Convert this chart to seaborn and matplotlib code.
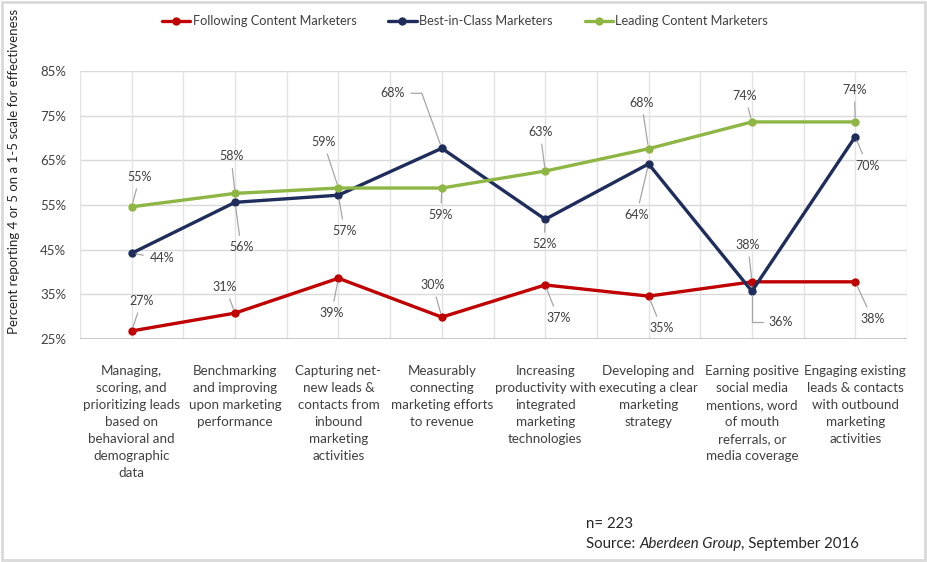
import matplotlib
matplotlib.use("Agg")
import matplotlib.pyplot as plt
import seaborn as sns
import pandas as pd
from matplotlib.patches import Rectangle

categories = [
    "Managing,\nscoring, and\nprioritizing leads\nbased on\nbehavioral and\ndemographic\ndata",
    "Benchmarking\nand improving\nupon marketing\nperformance",
    "Capturing net-\nnew leads &\ncontacts from\ninbound\nmarketing\nactivities",
    "Measurably\nconnecting\nmarketing efforts\nto revenue",
    "Increasing\nproductivity with\nintegrated\nmarketing\ntechnologies",
    "Developing and\nexecuting a clear\nmarketing\nstrategy",
    "Earning positive\nsocial media\nmentions, word\nof mouth\nreferrals, or\nmedia coverage",
    "Engaging existing\nleads & contacts\nwith outbound\nmarketing\nactivities",
]
series_names = ["Following Content Marketers", "Best-in-Class Marketers", "Leading Content Marketers"]
following = [26.8, 30.8, 38.6, 29.9, 37.1, 34.6, 37.8, 37.8]
best_in_class = [44.2, 55.6, 57.2, 67.7, 51.8, 64.2, 35.7, 70.3]
leading = [54.6, 57.6, 58.8, 58.8, 62.6, 67.6, 73.6, 73.6]
y_ticks = [25, 35, 45, 55, 65, 75, 85]
colors = ["#C00000", "#1F2D5C", "#8DB645"]

# label offsets in screen pixels (dx right, dy down)
offsets = {
    series_names[0]: [(10, -30), (-10, -26), (-7, 35), (-9, -32), (13, 33), (13, 32), (-4, -37), (17, 37)],
    series_names[1]: [(30, 5), (6, 45), (6, 36), (-49, -55), (-1, 25), (-12, 51), (29, 31), (12, 29)],
    series_names[2]: [(8, -30), (-4, -37), (-15, -46), (-1, 27), (-5, -39), (-7, -46), (-7, -26), (-1, -32)],
}
# elbow connectors (series, index) -> connection style
elbows = {
    (series_names[1], 3): "angle,angleA=0,angleB=110,rad=0",
    (series_names[1], 6): "angle,angleA=0,angleB=90,rad=0",
}

sns.set_theme(style="white")
plt.rcParams["font.family"] = ["Lato", "DejaVu Sans"]

rows = []
for name, vals in zip(series_names, [following, best_in_class, leading]):
    for i, v in enumerate(vals):
        rows.append({"idx": i, "value": v, "series": name})
df = pd.DataFrame(rows)

fig = plt.figure(figsize=(9.27, 5.62), dpi=100)
ax = fig.add_axes([80 / 927, 1 - 339 / 562, (907 - 80) / 927, (339 - 71) / 562])

sns.lineplot(data=df, x="idx", y="value", hue="series", hue_order=series_names,
             palette=colors, marker="o", markersize=6, markeredgewidth=0,
             linewidth=2.4, ax=ax, legend=False, zorder=3)

ax.set_xlim(-0.5, 7.5)
ax.set_ylim(25, 85)
ax.set_yticks(y_ticks)
ax.set_yticklabels([f"{t}%" for t in y_ticks], fontsize=9.5, color="#404040")
ax.set_xticks(range(len(categories)))
ax.set_xticklabels(categories, fontsize=9.6, color="#404040", linespacing=1.5, va="top")
ax.tick_params(axis="y", length=0, pad=10)
ax.tick_params(axis="x", length=0, pad=19)
ax.set_xlabel("")
ax.set_ylabel("")

for y in y_ticks:
    ax.axhline(y, color="#D9D9D9", lw=1, zorder=0)
for k in range(17):
    ax.axvline(-0.5 + 0.5 * k, color="#E3E3E3", lw=1, zorder=0)
for s in ax.spines.values():
    s.set_visible(False)
ax.axhline(25, color="#BFBFBF", lw=1.2, zorder=1)

for name, vals in zip(series_names, [following, best_in_class, leading]):
    for i, v in enumerate(vals):
        dx, dy = offsets[name][i]
        cs = elbows.get((name, i), "arc3")
        ax.annotate(f"{v:.0f}%", xy=(i, v), xytext=(dx, -dy), textcoords="offset pixels",
                    ha="center", va="center", fontsize=9, color="#404040",
                    arrowprops=dict(arrowstyle="-", color="#A6A6A6", lw=0.9,
                                    shrinkA=2, shrinkB=3, connectionstyle=cs), zorder=4)

fig.text(14 / 927, 1 - 171 / 562, "Percent reporting 4 or 5 on a 1-5 scale for effectiveness",
         rotation=90, ha="center", va="center", fontsize=9.5, color="#262626")

handles = [plt.Line2D([0], [0], color=c, lw=2.4, marker="o", markersize=6, markeredgewidth=0)
           for c in colors]
fig.legend(handles, series_names, loc="center", bbox_to_anchor=(465 / 927, 1 - 21 / 562),
           ncol=3, frameon=False, fontsize=9.2, handlelength=2.2, handletextpad=0.2,
           columnspacing=2.5, labelcolor="#404040")

fig.text(586 / 927, 1 - 524 / 562, "n= 223", fontsize=10.8, color="#262626", va="center")
t1 = fig.text(586 / 927, 1 - 544 / 562, "Source: ", fontsize=10.8, color="#262626", va="center")
t2 = ax.annotate("Aberdeen Group", xy=(1, 0), xycoords=t1, va="bottom", ha="left",
                 fontsize=10.8, color="#262626", style="italic", annotation_clip=False)
ax.annotate(", September 2016", xy=(1, 0), xycoords=t2, va="bottom", ha="left",
            fontsize=10.8, color="#262626", annotation_clip=False)

fig.patches.append(Rectangle((0.002, 0.003), 0.996, 0.994, transform=fig.transFigure,
                             fill=False, edgecolor="#D9D9D9", lw=2))

fig.savefig("out.png", dpi=100)
